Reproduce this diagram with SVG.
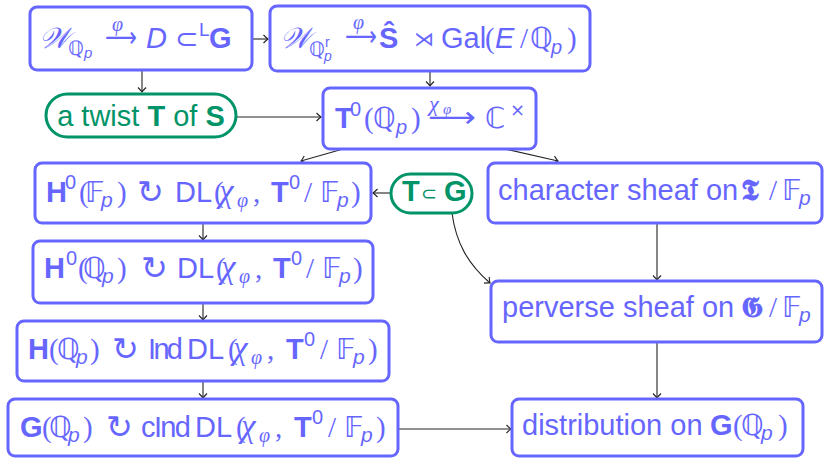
<svg xmlns="http://www.w3.org/2000/svg" width="824" height="458" viewBox="0 0 824 458">
<defs>
<marker id="ah" viewBox="-6 -5 8 10" refX="0" refY="0" markerWidth="8" markerHeight="10" markerUnits="userSpaceOnUse" orient="auto" overflow="visible">
<path d="M-4.5,-4 Q-1.5,-1 0,0 Q-1.5,1 -4.5,4" fill="none" stroke="#222" stroke-width="1.1"/>
</marker>
</defs>
<style>
.box{fill:#fff;stroke:#6666ff;stroke-width:3}
.pill{fill:#fff;stroke:#009468;stroke-width:3}
.bl{fill:#6666ff}
.gr{fill:#009468}
text{font-family:"Liberation Sans",Arial,sans-serif;font-size:29px}
.si{font-style:italic}
.b{font-weight:bold}
.r{font-family:"Liberation Serif",serif}
.ri{font-family:"Liberation Serif",serif;font-style:italic}
.ch{font-family:"Liberation Serif",serif;font-style:italic;font-size:33px}
.ds{font-family:"DejaVu Sans",sans-serif}
.ca{font-family:"Noto Sans CJK JP","DejaVu Sans",sans-serif;font-size:32px;font-weight:300}
.sc{font-family:"DejaVu Serif","Noto Sans",serif;font-style:italic}
.fk{font-family:"DejaVu Serif","Noto Sans",serif;font-weight:bold}
.conn line,.conn path{stroke:#222;stroke-width:1.1;fill:none;marker-end:url(#ah)}
</style>

<g class="conn">
<line x1="252" y1="39" x2="268" y2="39"/>
<line x1="142" y1="70" x2="142" y2="92"/>
<line x1="430" y1="71" x2="430" y2="86"/>
<line x1="236" y1="117" x2="321" y2="117"/>
<line x1="343" y1="149" x2="301" y2="161"/>
<line x1="505" y1="149" x2="558" y2="161"/>
<line x1="391" y1="193" x2="373" y2="193"/>
<path d="M452,213 C456,243 468,264 490,283"/>
<line x1="203" y1="223" x2="203" y2="240"/>
<line x1="203" y1="303" x2="203" y2="320"/>
<line x1="203" y1="381" x2="203" y2="398"/>
<line x1="657" y1="223" x2="657" y2="280"/>
<line x1="657" y1="342" x2="657" y2="398"/>
<line x1="398" y1="429" x2="511" y2="429"/>
</g>

<g id="n1" class="bl">
<rect class="box" x="30" y="7" width="222" height="63" rx="7"/>
<text><tspan class="sc" x="39" y="48">𝒲</tspan><tspan class="ds" x="68" y="55" font-size="20">ℚ</tspan><tspan class="si" x="84" y="58" font-size="15">p</tspan><tspan class="ri" x="112" y="31" font-size="20">φ</tspan><tspan class="ds" x="105" y="47" textLength="32" lengthAdjust="spacingAndGlyphs">⟶</tspan><tspan class="si" x="146" y="48">D</tspan><tspan class="ds" x="175" y="48" font-size="28">⊂</tspan><tspan x="199" y="36" font-size="19">L</tspan><tspan class="b" x="209" y="48">G</tspan></text>
</g>

<g id="n2" class="bl">
<rect class="box" x="270" y="6" width="320" height="65" rx="7"/>
<text><tspan class="sc" x="280" y="48">𝒲</tspan><tspan class="ds" x="309" y="56" font-size="20">ℚ</tspan><tspan x="325" y="47" font-size="14">r</tspan><tspan class="si" x="324" y="61" font-size="14">p</tspan><tspan class="ri" x="353" y="29" font-size="20">φ</tspan><tspan class="ds" x="345" y="46" textLength="32" lengthAdjust="spacingAndGlyphs">⟶</tspan><tspan class="b" x="379" y="48">Ŝ</tspan><tspan class="ds" x="414" y="46" font-size="20">⋊</tspan><tspan x="441" y="48">Gal</tspan><tspan class="r" x="485" y="48">(</tspan><tspan class="si" x="495" y="48">E</tspan><tspan class="r" x="520" y="48">/</tspan><tspan class="ds" x="530" y="48">ℚ</tspan><tspan class="si" x="551" y="54" font-size="20">p</tspan><tspan class="r" x="567" y="48">)</tspan></text>
</g>

<g id="twist" class="gr">
<rect class="pill" x="46" y="94" width="190" height="43" rx="21.5"/>
<text x="141" y="126" text-anchor="middle" font-size="28.5">a twist <tspan class="b">T</tspan> of <tspan class="b">S</tspan></text>
</g>

<g id="t0" class="bl">
<rect class="box" x="323" y="88" width="213" height="61" rx="7"/>
<text><tspan class="b" x="335" y="128">T</tspan><tspan x="350" y="116" font-size="20">0</tspan><tspan class="r" x="364" y="128">(</tspan><tspan class="ds" x="373" y="128">ℚ</tspan><tspan class="si" x="396" y="134" font-size="20">p</tspan><tspan class="r" x="411" y="128">)</tspan><tspan class="ri" x="429" y="111" font-size="22">χ</tspan><tspan class="ri" x="443" y="114" font-size="15">φ</tspan><tspan class="ds" x="428" y="127" textLength="48" lengthAdjust="spacingAndGlyphs">⟶</tspan><tspan class="ds" x="485" y="128">ℂ</tspan><tspan class="ds" x="510" y="116" font-size="18">×</tspan></text>
</g>

<g id="h0f" class="bl">
<rect class="box" x="35" y="163" width="336" height="60" rx="7"/>
<text><tspan class="b" x="46" y="202">H</tspan><tspan x="65" y="189" font-size="20">0</tspan><tspan class="r" x="79" y="202">(</tspan><tspan class="ds" x="85" y="202">𝔽</tspan><tspan class="si" x="101" y="207" font-size="21">p</tspan><tspan class="r" x="117" y="202">)</tspan><tspan class="ca" x="137" y="203">↻</tspan><tspan x="175" y="202">DL</tspan><tspan class="r" x="214" y="202">(</tspan><tspan class="ch" x="219" y="202">χ</tspan><tspan class="ri" x="237" y="207" font-size="20">φ</tspan><tspan class="r" x="253" y="202">,</tspan><tspan class="b" x="271" y="202">T</tspan><tspan x="289" y="189" font-size="20">0</tspan><tspan class="r" x="304" y="202">/</tspan><tspan class="ds" x="320" y="202">𝔽</tspan><tspan class="si" x="337" y="207" font-size="21">p</tspan><tspan class="r" x="351" y="202">)</tspan></text>
</g>

<g id="h0q" class="bl">
<rect class="box" x="33" y="241" width="340" height="62" rx="7"/>
<text><tspan class="b" x="44" y="278">H</tspan><tspan x="66" y="265" font-size="20">0</tspan><tspan class="r" x="78" y="278">(</tspan><tspan class="ds" x="83" y="278">ℚ</tspan><tspan class="si" x="102" y="283" font-size="21">p</tspan><tspan class="r" x="117" y="278">)</tspan><tspan class="ca" x="141" y="279">↻</tspan><tspan x="177" y="278">DL</tspan><tspan class="r" x="216" y="278">(</tspan><tspan class="ch" x="221" y="278">χ</tspan><tspan class="ri" x="239" y="283" font-size="20">φ</tspan><tspan class="r" x="255" y="278">,</tspan><tspan class="b" x="273" y="278">T</tspan><tspan x="291" y="265" font-size="20">0</tspan><tspan class="r" x="306" y="278">/</tspan><tspan class="ds" x="322" y="278">𝔽</tspan><tspan class="si" x="339" y="283" font-size="21">p</tspan><tspan class="r" x="353" y="278">)</tspan></text>
</g>

<g id="hq" class="bl">
<rect class="box" x="17" y="321" width="372" height="60" rx="7"/>
<text><tspan class="b" x="28" y="359">H</tspan><tspan class="r" x="49" y="359">(</tspan><tspan class="ds" x="57" y="359">ℚ</tspan><tspan class="si" x="76" y="364" font-size="21">p</tspan><tspan class="r" x="90" y="359">)</tspan><tspan class="ca" x="112" y="360">↻</tspan><tspan x="148" y="359" textLength="35">Ind</tspan><tspan x="187" y="359">DL</tspan><tspan class="r" x="228" y="359">(</tspan><tspan class="ch" x="233" y="359">χ</tspan><tspan class="ri" x="251" y="364" font-size="20">φ</tspan><tspan class="r" x="267" y="359">,</tspan><tspan class="b" x="286" y="359">T</tspan><tspan x="304" y="346" font-size="20">0</tspan><tspan class="r" x="320" y="359">/</tspan><tspan class="ds" x="336" y="359">𝔽</tspan><tspan class="si" x="353" y="364" font-size="21">p</tspan><tspan class="r" x="368" y="359">)</tspan></text>
</g>

<g id="gq" class="bl">
<rect class="box" x="8" y="399" width="390" height="57" rx="7"/>
<text><tspan class="b" x="20" y="437">G</tspan><tspan class="r" x="42" y="437">(</tspan><tspan class="ds" x="49" y="437">ℚ</tspan><tspan class="si" x="68" y="442" font-size="21">p</tspan><tspan class="r" x="83" y="437">)</tspan><tspan class="ca" x="106" y="438">↻</tspan><tspan x="141" y="437" textLength="50">cInd</tspan><tspan x="195" y="437">DL</tspan><tspan class="r" x="236" y="437">(</tspan><tspan class="ch" x="241" y="437">χ</tspan><tspan class="ri" x="259" y="442" font-size="20">φ</tspan><tspan class="r" x="275" y="437">,</tspan><tspan class="b" x="294" y="437">T</tspan><tspan x="312" y="424" font-size="20">0</tspan><tspan class="r" x="328" y="437">/</tspan><tspan class="ds" x="344" y="437">𝔽</tspan><tspan class="si" x="361" y="442" font-size="21">p</tspan><tspan class="r" x="376" y="437">)</tspan></text>
</g>

<g id="tg" class="gr">
<rect class="pill" x="391" y="174" width="81" height="39" rx="19.5"/>
<text font-size="21"><tspan class="b" x="402" y="201">T</tspan><tspan class="ds" x="421" y="200" font-size="19">⊂</tspan><tspan class="b" x="444" y="201">G</tspan></text>
</g>

<g id="cs" class="bl">
<rect class="box" x="488" y="163" width="334" height="60" rx="7"/>
<text><tspan x="498" y="200">character sheaf on</tspan><tspan class="fk" x="741" y="200">𝕿</tspan><tspan class="r" x="769" y="200">/</tspan><tspan class="ds" x="782" y="200">𝔽</tspan><tspan class="si" x="799" y="205" font-size="21">p</tspan></text>
</g>

<g id="ps" class="bl">
<rect class="box" x="491" y="281" width="331" height="61" rx="7"/>
<text><tspan x="502" y="317">perverse sheaf on</tspan><tspan class="fk" x="741" y="317">𝕲</tspan><tspan class="r" x="769" y="317">/</tspan><tspan class="ds" x="782" y="317">𝔽</tspan><tspan class="si" x="799" y="322" font-size="21">p</tspan></text>
</g>

<g id="dist" class="bl">
<rect class="box" x="512" y="399" width="291" height="57" rx="7"/>
<text><tspan x="522" y="435">distribution on</tspan><tspan class="b" x="710" y="435">G</tspan><tspan class="r" x="733" y="435">(</tspan><tspan class="ds" x="741" y="435">ℚ</tspan><tspan class="si" x="761" y="440" font-size="21">p</tspan><tspan class="r" x="778" y="435">)</tspan></text>
</g>
</svg>
